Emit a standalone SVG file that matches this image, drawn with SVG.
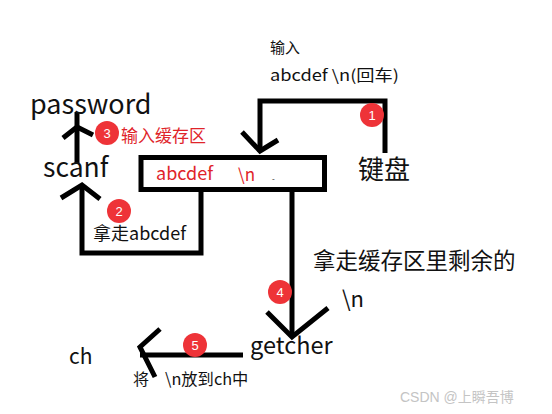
<svg xmlns="http://www.w3.org/2000/svg" width="552" height="414" viewBox="0 0 552 414">
<style>
.ln{fill:none;stroke:#000;stroke-width:5;stroke-linecap:butt;stroke-linejoin:miter}
.t{font-family:"Microsoft YaHei","Noto Sans CJK SC","DejaVu Sans",sans-serif;fill:#111}
.r{fill:#e0242a}
.bd{fill:#ee3338}
.bn{font-family:"Liberation Sans","Noto Sans",sans-serif;font-size:13px;fill:#fff;text-anchor:middle}
</style>
<rect width="552" height="414" fill="#fff"/>
<g id="connectors">
<polyline class="ln" points="385,153 385,101 260,101 260,152"/>
<polyline class="ln" points="242,132 260,151 278,140"/>
<polyline class="ln" points="201,191 201,253 82,253 82,186"/>
<polyline class="ln" points="61,198 82,185 100,199"/>
<line class="ln" x1="77" y1="163" x2="77" y2="112"/>
<polyline class="ln" points="63,138 77,127 93,135"/>
<line class="ln" x1="292" y1="191" x2="292" y2="337"/>
<polyline class="ln" points="267,312 292,337 328,308"/>
<line class="ln" x1="243" y1="355" x2="140" y2="355"/>
<polyline class="ln" points="160,329 140,347 155,377"/>
</g>
<g id="buffer">
<rect class="ln" x="141" y="157.5" width="183.5" height="32"/>
<text class="t r" x="156" y="180" font-size="18">abcdef</text>
<text class="t r" x="238" y="181" font-size="17">\n</text>
<text class="t" x="272" y="182" font-size="8" fill="#999">-</text>
</g>
<g id="keyboard">
<text class="t" x="358" y="179" font-size="26">键盘</text>
</g>
<g id="input-label">
<text class="t" x="270" y="53" font-size="15">输入</text>
<text class="t" x="270" y="81" font-size="15.5" textLength="129" lengthAdjust="spacingAndGlyphs">abcdef \n(回车)</text>
</g>
<g id="scanf"><text class="t" x="43" y="177" font-size="26.5">scanf</text></g>
<g id="password"><text class="t" x="30" y="114" font-size="27">password</text></g>
<g id="getcher"><text class="t" x="250" y="354" font-size="23.5">getcher</text></g>
<g id="ch"><text class="t" x="69" y="364" font-size="21">ch</text></g>
<g id="labels">
<text class="t" x="93" y="240" font-size="18">拿走abcdef</text>
<text class="t r" x="121" y="142" font-size="17">输入缓存区</text>
<text class="t" x="313" y="269" font-size="22.5">拿走缓存区里剩余的</text>
<text class="t" x="342" y="307" font-size="22">\n</text>
<text class="t" x="133" y="385" font-size="16">将</text>
<text class="t" x="165" y="385" font-size="16.3">\n放到ch中</text>
</g>
<g id="badges">
<circle class="bd" cx="372" cy="115" r="12"/><text class="bn" x="372" y="120">1</text>
<circle class="bd" cx="119" cy="211" r="12"/><text class="bn" x="119" y="216">2</text>
<circle class="bd" cx="107" cy="133" r="12"/><text class="bn" x="107" y="138">3</text>
<circle class="bd" cx="280" cy="292" r="12"/><text class="bn" x="280" y="297">4</text>
<circle class="bd" cx="195" cy="345" r="12"/><text class="bn" x="195" y="350">5</text>
</g>
<text x="400" y="402" font-family="'Liberation Sans','Noto Sans CJK SC',sans-serif" font-size="14" fill="#c4c4c4">CSDN @上瞬吾博</text>
</svg>
